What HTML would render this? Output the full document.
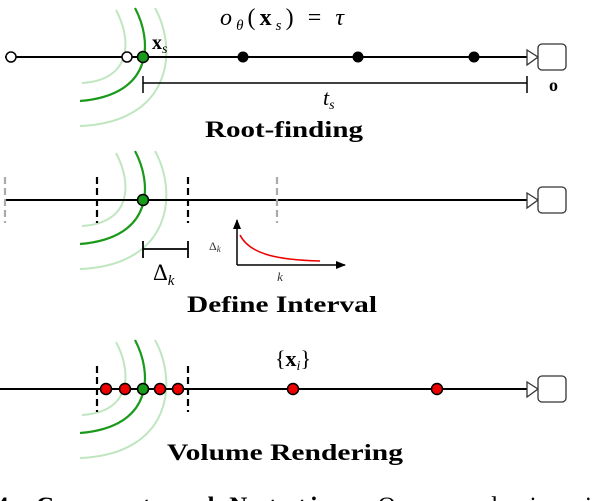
<!DOCTYPE html>
<html><head><meta charset="utf-8"><style>
html,body{margin:0;padding:0;background:#fff;width:606px;height:501px;overflow:hidden}
svg{display:block}
.s{font-family:"Liberation Serif",serif}
</style></head><body>
<svg width="606" height="501" viewBox="0 0 606 501" xmlns="http://www.w3.org/2000/svg">
<defs>
<g id="arcs">
<path d="M116,10 C132,40 132,80 82,83" fill="none" stroke="#bfe6bf" stroke-width="2"/>
<path d="M155,8 C178,50 172,122 80,126" fill="none" stroke="#bfe6bf" stroke-width="2"/>
<path d="M135,8 C152,40 155,95 80,101" fill="none" stroke="#1a9a1a" stroke-width="2.2"/>
</g>
<g id="cam">
<path d="M527,50 L538,57 L527,65 Z" fill="#fff" stroke="#333" stroke-width="1.3"/>
<rect x="538" y="44" width="28" height="26" rx="4" fill="#fff" stroke="#333" stroke-width="1.3"/>
</g>
<marker id="ah" markerWidth="10" markerHeight="8" refX="9" refY="4" orient="auto" markerUnits="userSpaceOnUse"><path d="M0,0 L10,4 L0,8 Z" fill="#000"/></marker>
</defs>

<!-- Row 1 -->
<use href="#arcs"/>
<line x1="5" y1="57" x2="527" y2="57" stroke="#000" stroke-width="2"/>
<use href="#cam"/>
<circle cx="11" cy="57" r="5" fill="#fff" stroke="#000" stroke-width="1.5"/>
<circle cx="127" cy="57" r="5" fill="#fff" stroke="#000" stroke-width="1.5"/>
<circle cx="143" cy="57" r="5.5" fill="#1a9a1a" stroke="#000" stroke-width="1.5"/>
<circle cx="243" cy="57" r="5.5" fill="#000"/>
<circle cx="358" cy="57" r="5.5" fill="#000"/>
<circle cx="474" cy="57" r="5.5" fill="#000"/>
<line x1="143" y1="83" x2="527" y2="83" stroke="#000" stroke-width="1.5"/>
<line x1="143" y1="76" x2="143" y2="93" stroke="#000" stroke-width="1.5"/>
<line x1="527" y1="76" x2="527" y2="93" stroke="#000" stroke-width="1.5"/>
<text x="152" y="49" class="s" font-size="20" font-weight="bold">x<tspan font-size="14" font-style="italic" font-weight="normal" dy="4">s</tspan></text>
<text x="220" y="25" class="s" font-size="24" textLength="124" lengthAdjust="spacing"><tspan font-style="italic">o</tspan><tspan font-size="15" font-style="italic" dy="5">θ</tspan><tspan dy="-5">(</tspan><tspan font-weight="bold">x</tspan><tspan font-size="15" font-style="italic" dy="5">s</tspan><tspan dy="-5">) = </tspan><tspan font-style="italic">τ</tspan></text>
<text x="323" y="105" class="s" font-size="22" font-style="italic">t<tspan font-size="14" dy="4">s</tspan></text>
<text x="549" y="91" class="s" font-size="18" font-weight="bold">o</text>
<text x="205" y="137" class="s" font-size="23" font-weight="bold" textLength="158" lengthAdjust="spacingAndGlyphs">Root-finding</text>

<!-- Row 2 -->
<use href="#arcs" transform="translate(0,143)"/>
<line x1="5" y1="200" x2="527" y2="200" stroke="#000" stroke-width="2"/>
<use href="#cam" transform="translate(0,143)"/>
<line x1="5" y1="177" x2="5" y2="223" stroke="#aaa" stroke-width="2.2" stroke-dasharray="7,4"/>
<line x1="277" y1="177" x2="277" y2="223" stroke="#aaa" stroke-width="2.2" stroke-dasharray="7,4"/>
<line x1="97" y1="177" x2="97" y2="223" stroke="#000" stroke-width="2.2" stroke-dasharray="7,4"/>
<line x1="188" y1="177" x2="188" y2="223" stroke="#000" stroke-width="2.2" stroke-dasharray="7,4"/>
<circle cx="143" cy="200" r="5.5" fill="#1a9a1a" stroke="#000" stroke-width="1.5"/>
<line x1="143" y1="249" x2="188" y2="249" stroke="#000" stroke-width="1.8"/>
<line x1="143" y1="241" x2="143" y2="258" stroke="#000" stroke-width="1.8"/>
<line x1="188" y1="241" x2="188" y2="258" stroke="#000" stroke-width="1.8"/>
<text x="153" y="280" class="s" font-size="23">Δ<tspan font-size="15" font-style="italic" dy="5">k</tspan></text>
<line x1="237" y1="265" x2="237" y2="220" stroke="#000" stroke-width="1.5" marker-end="url(#ah)"/>
<line x1="237" y1="265" x2="345" y2="265" stroke="#000" stroke-width="1.5" marker-end="url(#ah)"/>
<path d="M240,235 C250,255 280,260 320,261" fill="none" stroke="#e00" stroke-width="1.5"/>
<text x="209" y="250" class="s" font-size="12" fill="#333">Δ<tspan font-size="9" font-style="italic" dy="2">k</tspan></text>
<text x="280" y="281" class="s" font-size="13" font-style="italic" fill="#333" text-anchor="middle">k</text>
<text x="187" y="312" class="s" font-size="23" font-weight="bold" textLength="190" lengthAdjust="spacingAndGlyphs">Define Interval</text>

<!-- Row 3 -->
<use href="#arcs" transform="translate(0,332)"/>
<line x1="0" y1="389" x2="527" y2="389" stroke="#000" stroke-width="2"/>
<use href="#cam" transform="translate(0,332)"/>
<line x1="97" y1="366" x2="97" y2="412" stroke="#000" stroke-width="2.2" stroke-dasharray="7,4"/>
<line x1="188" y1="366" x2="188" y2="412" stroke="#000" stroke-width="2.2" stroke-dasharray="7,4"/>
<g fill="#e00" stroke="#000" stroke-width="1.5">
<circle cx="106" cy="389" r="5.5"/><circle cx="125" cy="389" r="5.5"/>
<circle cx="160" cy="389" r="5.5"/><circle cx="178" cy="389" r="5.5"/>
<circle cx="293" cy="389" r="5.5"/><circle cx="437" cy="389" r="5.5"/>
</g>
<circle cx="143" cy="389" r="5.5" fill="#1a9a1a" stroke="#000" stroke-width="1.5"/>
<text x="293" y="366" class="s" font-size="22" text-anchor="middle">{<tspan font-weight="bold">x</tspan><tspan font-size="14" font-style="italic" dy="4">i</tspan><tspan dy="-4">}</tspan></text>
<text x="167" y="460" class="s" font-size="23" font-weight="bold" textLength="236" lengthAdjust="spacingAndGlyphs">Volume Rendering</text>

<!-- caption -->
<text x="-4" y="514" class="s" font-size="25" textLength="610" lengthAdjust="spacing"><tspan font-weight="bold">4:  Concept and Notation.</tspan>  Our rendering is</text>
</svg>
</body></html>
